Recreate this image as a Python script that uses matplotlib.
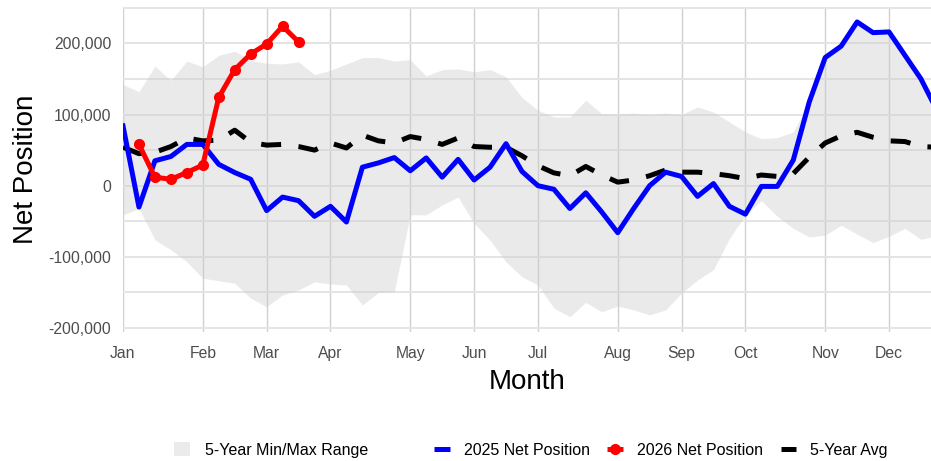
import matplotlib

matplotlib.use("Agg")

import matplotlib.pyplot as plt
import numpy as np
from matplotlib.lines import Line2D
from matplotlib.patches import Patch
from matplotlib.ticker import FuncFormatter

plt.rcParams["font.family"] = ["Liberation Sans", "DejaVu Sans"]

# week-of-year index (1..52)
weeks = np.arange(1, 53)

net_2025 = [84000, -30000, 35000, 41000, 58000, 58000, 30000, 18500, 9000, -35000,
            -16000, -21000, -43000, -29000, -51000, 26000, 32000, 39500, 21000, 39000,
            12000, 37000, 8000, 26000, 59000, 20000, 0, -5000, -32000, -10000,
            -37000, -66000, -32000, 0, 19000, 13000, -15000, 3000, -29000, -40000,
            -1000, -1000, 36000, 117500, 180000, 196000, 230000, 215000, 216000, 183000,
            150000, 106000]

weeks_2026 = np.arange(2, 13)
net_2026 = [58000, 12000, 9000, 18500, 29000, 124000, 163000, 185000, 199000, 224000, 202000]

avg_5yr = [54000, 45000, 47000, 55000, 67000, 63000, 64000, 78000, 61000, 57000,
           58000, 55000, 50000, 60000, 53000, 71000, 63000, 60000, 69000, 65000,
           58000, 67000, 55000, 54000, 54000, 42000, 28000, 18000, 14000, 27000,
           15000, 5000, 8000, 14000, 22000, 19000, 19000, 17000, 14000, 10000,
           15000, 13000, 17000, 40000, 60000, 70000, 75000, 68000, 63000, 62000,
           55000, 54000]

max_5yr = [142000, 132000, 168000, 148000, 175000, 167000, 183000, 189000, 176000, 172000,
           171000, 174000, 156000, 162000, 171000, 180000, 180000, 175000, 177000, 154000,
           163000, 164000, 160000, 163000, 153000, 124000, 106000, 96500, 96500, 120000,
           101000, 101000, 102000, 100000, 102000, 100000, 110500, 103500, 89500, 75500,
           66000, 67500, 75500, 117500, 180000, 196000, 230000, 215000, 216000, 183000,
           150000, 106000]

min_5yr = [-41000, -32000, -76000, -90000, -107000, -130000, -133500, -137000, -158000, -170000,
           -153500, -146500, -135000, -138000, -139500, -167500, -150000, -149000, -41000, -41000,
           -27000, -16000, -53000, -76500, -107000, -128000, -139500, -172000, -184000, -164000,
           -177000, -169000, -174500, -181500, -174500, -151000, -132500, -118000, -74000, -41000,
           -21000, -43000, -60000, -72000, -69500, -55500, -68000, -80000, -71000, -60000,
           -75500, -70000]

month_weeks = [1, 6, 10, 14, 19, 23, 27, 32, 36, 40, 45, 49]
month_labels = ["Jan", "Feb", "Mar", "Apr", "May", "Jun", "Jul", "Aug", "Sep", "Oct", "Nov", "Dec"]

fig = plt.figure(figsize=(9.31, 4.61), dpi=100)
ax = fig.add_axes([123 / 931, 1 - 332 / 461, 1 - 123 / 931, (332 - 7) / 461])

ax.fill_between(weeks, min_5yr, max_5yr, color="#cccccc", alpha=0.4, linewidth=0, zorder=2)
ax.plot(weeks, net_2025, color="#0000ff", linewidth=3.6, zorder=4)
ax.plot(weeks_2026, net_2026, color="#ff0000", linewidth=3.6, marker="o",
        markersize=7, zorder=5)
ax.plot(weeks, avg_5yr, color="black", linewidth=3.6, linestyle=(0, (4, 3.5)),
        dash_capstyle="butt", zorder=3)

ax.set_xlim(1, 51.63)
ax.set_ylim(-205500, 251000)
ax.set_xticks(month_weeks)
ax.set_xticklabels(month_labels)
ax.set_yticks([-200000, -100000, 0, 100000, 200000])
ax.set_yticks([-150000, -50000, 50000, 150000, 250000], minor=True)
ax.yaxis.set_major_formatter(FuncFormatter(lambda v, _: f"{int(v):,}"))

ax.grid(True, axis="x", color="#d0d0d0", linewidth=1.0, zorder=0)
ax.grid(True, axis="y", which="both", color="#e4e4e4", linewidth=1.4, zorder=0)
ax.set_axisbelow(True)
for s in ax.spines.values():
    s.set_visible(False)
ax.tick_params(axis="both", which="both", length=0, labelsize=11.3, labelcolor="#4d4d4d")
ax.tick_params(axis="y", pad=8.5)
ax.tick_params(axis="x", pad=10)

ax.set_xlabel("Month", fontsize=20, labelpad=6)
ax.set_ylabel("Net Position", fontsize=20, labelpad=6.5)

fig.legend(handles=[Patch(facecolor="#ebebeb", edgecolor="none")],
           labels=["5-Year Min/Max Range"], loc="center left",
           bbox_to_anchor=(160 / 931, 1 - 450 / 461), frameon=False,
           fontsize=11.5, handlelength=1.0, handleheight=1.0, handletextpad=0.9)
line_handles = [
    Line2D([], [], color="#0000ff", linewidth=3.6, solid_capstyle="butt"),
    Line2D([], [], color="#ff0000", linewidth=3.6, marker="o", markersize=7,
           solid_capstyle="butt"),
    Line2D([], [], color="black", linewidth=3.6, solid_capstyle="butt"),
]
fig.legend(handles=line_handles,
           labels=["2025 Net Position", "2026 Net Position", "5-Year Avg"],
           loc="center left", bbox_to_anchor=(420 / 931, 1 - 450 / 461), ncol=3,
           frameon=False, fontsize=11.5, handlelength=0.95, handletextpad=0.9,
           columnspacing=1.1)

fig.savefig("out.png", dpi=100)
